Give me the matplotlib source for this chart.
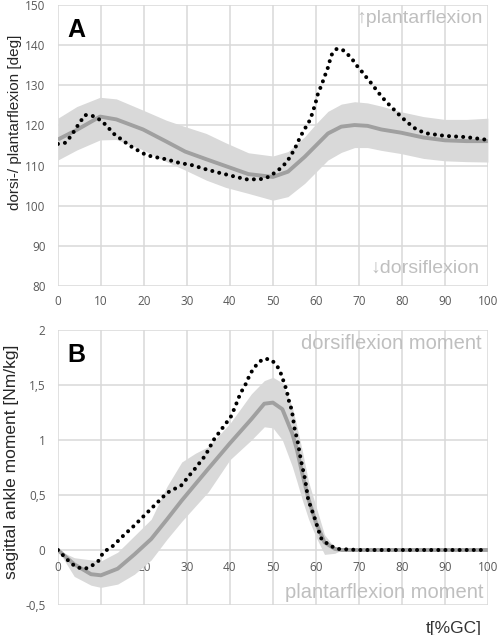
import matplotlib
matplotlib.use("Agg")
import matplotlib.pyplot as plt

# ---- panel A: ankle angle [deg] ----
a_x = [0, 4.4, 9.8, 13.6, 19.8, 25.2, 29.6, 34.5, 39, 44.3, 50, 53.5, 57.4, 60.1,
       62.8, 65.9, 69, 72, 75.2, 79.8, 85, 90, 95, 100]
a_mean = [116.5, 118.9, 122.2, 121.5, 119.0, 116.0, 113.5, 111.6, 109.9, 107.9, 107.2, 108.5,
          112.2, 115.1, 118.0, 119.7, 120.1, 119.9, 119.0, 118.2, 117.0, 116.3, 116.1, 116.1]
a_upper = [121.8, 124.7, 127.0, 126.6, 123.8, 121.3, 119.7, 118.0, 115.7, 113.2, 112.4, 113.5,
           117.2, 120.5, 123.5, 125.3, 125.9, 125.6, 124.8, 123.4, 122.2, 121.5, 121.5, 121.8]
a_lower = [111.4, 113.9, 116.4, 116.5, 113.9, 111.0, 108.9, 106.4, 104.6, 103.1, 101.4, 102.3,
           105.6, 108.5, 111.4, 113.3, 114.5, 114.5, 113.8, 113.0, 111.8, 111.2, 111.0, 110.9]

a_dot_x = [0, 1.8, 3.2, 4.5, 6.3, 8.0, 9.6, 11.2, 12.9, 14.3, 15.8, 17.4, 19.1, 20.6, 22.3,
           25.1, 28.2, 31.3, 34.4, 37.6, 40.7, 43.8, 46.0, 47.7, 49.4, 50.7, 52.0, 53.0, 53.9,
           54.7, 55.5, 56.2, 57.0, 58.6, 59.3, 60.1, 60.5, 61.3, 62.0, 62.8, 63.6, 64.8, 66.1,
           67.3, 68.5, 69.4, 70.4, 71.3, 72.3, 73.5, 74.4, 75.3, 76.4, 77.4, 78.3, 79.4, 81,
           83, 85.3, 90, 95, 100]
a_dot = [115.4, 115.7, 117.6, 119.8, 122.6, 122.4, 121.5, 120.1, 118.0, 116.9, 115.7, 114.5,
         113.5, 112.6, 112.2, 111.6, 110.7, 110.1, 109.1, 108.2, 107.4, 106.6, 106.6, 106.7,
         107.4, 108.5, 109.5, 110.7, 112.0, 113.5, 115.1, 116.8, 118.4, 121.3, 123.4, 126.3,
         128.0, 130.0, 132.1, 134.4, 137.5, 139.0, 138.9, 137.8, 136.4, 135.0, 133.8, 132.5,
         131.3, 129.6, 128.4, 127.1, 125.9, 124.7, 123.8, 122.6, 121.0, 119.3, 118.1, 117.4,
         117.1, 116.4]

# ---- panel B: sagittal ankle moment [Nm/kg] ----
b_x = [0, 3.8, 7.7, 10, 13.9, 17.8, 21.7, 25.4, 28.8, 32, 35, 40, 45, 48, 50, 52.2,
       54.5, 55.6, 56.8, 58.3, 60, 62, 64.4, 66, 70, 80, 90, 100]
b_mean = [0, -0.13, -0.22, -0.23, -0.17, -0.04, 0.10, 0.28, 0.45, 0.60, 0.74, 0.97, 1.19,
          1.33, 1.34, 1.28, 1.06, 0.91, 0.70, 0.46, 0.25, 0.07, 0.01, 0, 0, 0, 0, 0]
b_upper = [0, -0.07, -0.09, -0.10, -0.02, 0.13, 0.28, 0.58, 0.80, 0.88, 0.94, 1.15, 1.42,
           1.54, 1.57, 1.52, 1.30, 1.12, 0.91, 0.62, 0.40, 0.14, 0.02, 0, 0, 0, 0, 0]
b_lower = [0, -0.24, -0.32, -0.34, -0.31, -0.22, -0.09, 0.10, 0.26, 0.40, 0.53, 0.82, 1.00,
           1.12, 1.11, 1.00, 0.76, 0.62, 0.46, 0.28, 0.12, -0.04, -0.03, 0, 0, 0, 0, 0]

b_dot_x = [0, 1.5, 3.0, 4.6, 6.4, 8.0, 9.4, 10.6, 12.9, 15.2, 17.7, 20, 25.4, 28.8, 30.4,
           31.9, 33.1, 34.3, 35.4, 36.2, 38.1, 40.2, 41.2, 42.4, 43.7, 44.7, 45.7, 46.8, 48.0,
           49.6, 50.9, 51.8, 52.6, 53.2, 53.7, 54.4, 55.1, 55.7, 56.5, 57.5, 58.2, 59.0, 59.8,
           60.5, 61.3, 62.9, 64.8, 70, 80, 90, 100]
b_dot = [0, -0.06, -0.12, -0.16, -0.17, -0.14, -0.10, -0.02, 0.04, 0.13, 0.22, 0.31, 0.52,
         0.59, 0.67, 0.74, 0.80, 0.86, 0.94, 1.00, 1.10, 1.21, 1.30, 1.42, 1.51, 1.60, 1.66,
         1.71, 1.74, 1.73, 1.68, 1.61, 1.52, 1.45, 1.36, 1.27, 1.09, 1.00, 0.82, 0.64, 0.46,
         0.37, 0.28, 0.19, 0.10, 0.05, 0.01, 0, 0, 0, 0]

x_ticks = list(range(0, 101, 10))
a_yticks = [80, 90, 100, 110, 120, 130, 140, 150]
b_yticks = [-0.5, 0, 0.5, 1, 1.5, 2]
b_ylabels = ["-0,5", "0", "0,5", "1", "1,5", "2"]

GRID = "#d9d9d9"
BAND = "#d9d9d9"
MEAN = "#a0a0a0"
NOTE = "#bfbfbf"
TICK = "#595959"
TXT = ["Liberation Sans", "DejaVu Sans"]
TICKFONT = "Open Sans"
TS = 8.5

fig = plt.figure(figsize=(5, 6.35), dpi=100)


def style_axes(ax, yticks):
    ax.set_xlim(0, 100)
    ax.set_ylim(yticks[0], yticks[-1])
    ax.set_xticks(x_ticks)
    ax.set_yticks(yticks)
    ax.grid(True, color=GRID, lw=1.1)
    ax.set_axisbelow(True)
    for s in ax.spines.values():
        s.set_visible(False)
    ax.tick_params(length=0, colors=TICK, labelsize=TS, pad=9)
    for lab in ax.get_yticklabels():
        lab.set_family(TICKFONT)


def draw_curves(ax, x, mean, lo, hi, dx, dy):
    ax.fill_between(x, lo, hi, color=BAND, lw=0, zorder=2)
    ax.plot(x, mean, color=MEAN, lw=2.8, zorder=3, solid_capstyle="butt")
    ax.plot(dx, dy, color="black", lw=2.9, linestyle=(0, (0.01, 1.75)),
            dash_capstyle="round", zorder=4)


# panel A
axA = fig.add_axes([57.9 / 500, 1 - 286.3 / 635, 430 / 500, 281.5 / 635])
style_axes(axA, a_yticks)
axA.set_yticklabels([str(v) for v in a_yticks])
axA.set_xticklabels([str(v) for v in x_ticks], family=TICKFONT)
axA.tick_params(axis="x", pad=6)
draw_curves(axA, a_x, a_mean, a_lower, a_upper, a_dot_x, a_dot)
axA.text(0.023, 0.912, "A", transform=axA.transAxes, fontsize=18, fontweight="bold",
         family=TXT, va="center", ha="left")
axA.text(0.987, 0.95, "↑plantarflexion", transform=axA.transAxes, fontsize=14,
         color=NOTE, family=TXT, ha="right", va="center")
axA.text(0.98, 0.065, "↓dorsiflexion", transform=axA.transAxes, fontsize=14,
         color=NOTE, family=TXT, ha="right", va="center")

# panel B
axB = fig.add_axes([57.9 / 500, 1 - 605 / 635, 430 / 500, 275 / 635])
style_axes(axB, b_yticks)
axB.set_yticklabels(b_ylabels)
axB.set_xticklabels([])
for xv in x_ticks:
    axB.annotate(str(xv), (xv, 0), xytext=(0, -8), textcoords="offset points",
                 ha="center", va="top", fontsize=TS, color=TICK, family=TICKFONT, zorder=1)
draw_curves(axB, b_x, b_mean, b_lower, b_upper, b_dot_x, b_dot)
axB.text(0.023, 0.91, "B", transform=axB.transAxes, fontsize=18, fontweight="bold",
         family=TXT, va="center", ha="left")
axB.text(0.985, 0.95, "dorsiflexion moment", transform=axB.transAxes, fontsize=14.5,
         color=NOTE, family=TXT, ha="right", va="center")
axB.text(0.99, 0.047, "plantarflexion moment", transform=axB.transAxes, fontsize=14.5,
         color=NOTE, family=TXT, ha="right", va="center")

fig.text(0.03, 1 - 122 / 635, "dorsi-/ plantarflexion [deg]", rotation=90, fontsize=11,
         family=TXT, color="#262626", ha="center", va="center")
fig.text(0.024, 1 - 462 / 635, "sagittal ankle moment [Nm/kg]", rotation=90, fontsize=12.5,
         family=TXT, color="#262626", ha="center", va="center")
fig.text(482 / 500, 1 - 628 / 635, "t[%GC]", fontsize=12.5, family=TXT, color="#333333",
         ha="right", va="center")

fig.savefig("out.png", dpi=100)
